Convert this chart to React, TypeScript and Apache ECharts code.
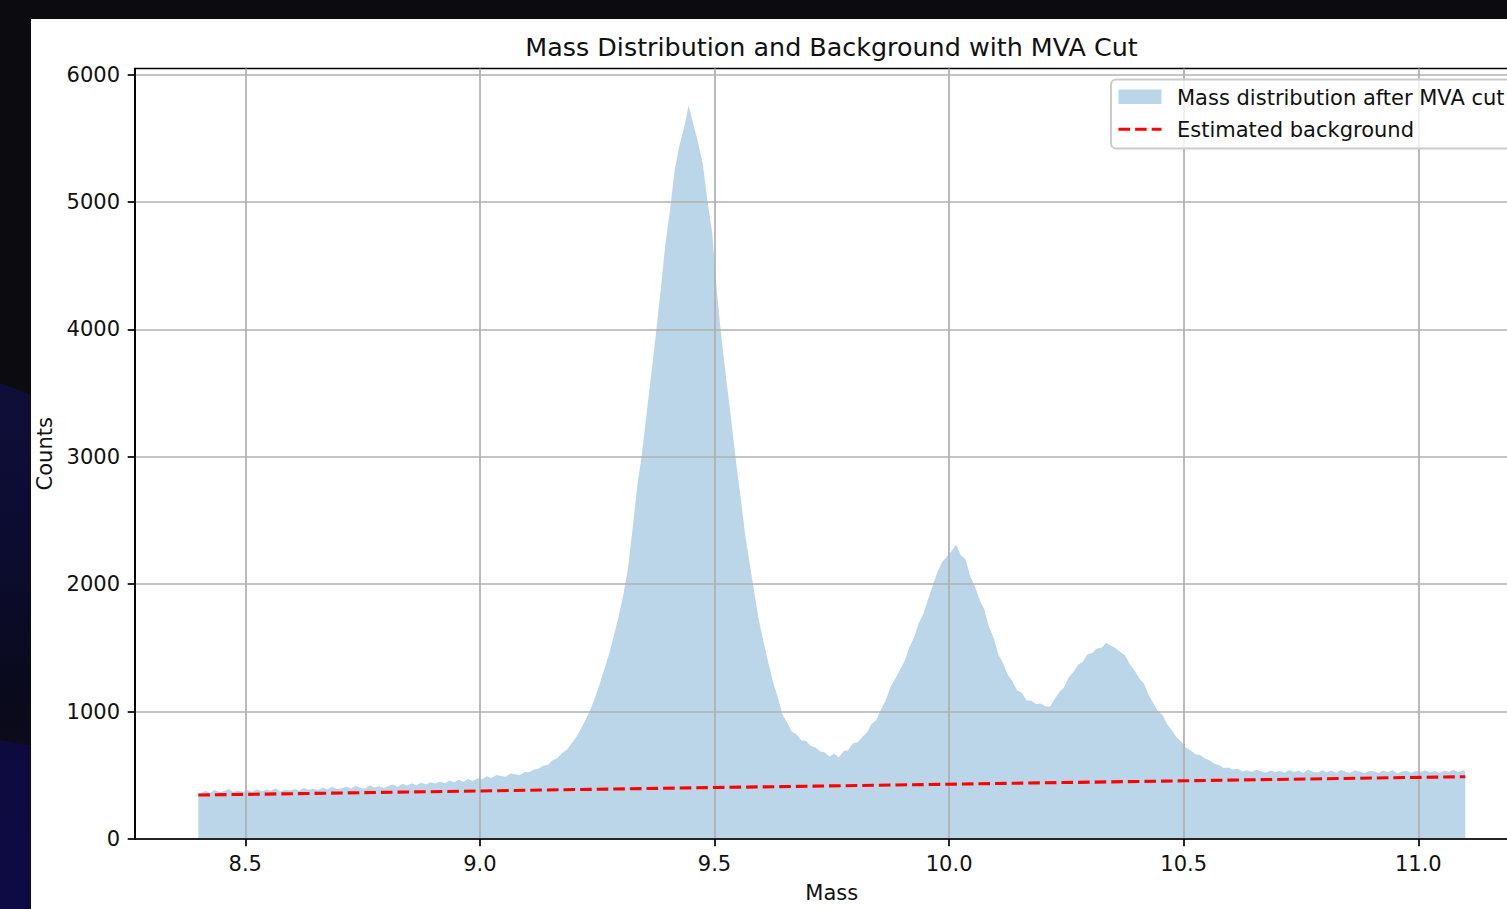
import React, { useEffect, useRef } from "react";
import * as echarts from "echarts";

// Histogram of the reconstructed mass after the MVA selection (bins of 0.01 from 8.40 to 11.10)
const HIST_START = 8.4;
const HIST_BIN_WIDTH = 0.01;
const histCounts: number[] = [
  358, 379, 364, 386, 366, 377, 392, 368, 381, 371, // 8.40
  384, 370, 391, 375, 388, 379, 398, 372, 387, 380, // 8.50
  392, 378, 401, 386, 395, 383, 404, 389, 410, 393, // 8.60
  399, 412, 396, 418, 403, 395, 421, 405, 414, 401, // 8.70
  416, 428, 411, 433, 420, 437, 422, 441, 427, 446, // 8.80
  435, 451, 438, 460, 445, 466, 449, 471, 456, 476, // 8.90
  470, 492, 479, 503, 494, 488, 515, 509, 501, 526, // 9.00
  524, 545, 551, 577, 583, 618, 634, 675, 698, 748, // 9.10
  798, 862, 935, 1012, 1105, 1212, 1330, 1448, 1590, 1735, // 9.20
  1905, 2110, 2420, 2760, 3010, 3330, 3640, 3960, 4300, 4660, // 9.30
  4930, 5250, 5440, 5580, 5760, 5610, 5470, 5300, 5010, 4760, // 9.40
  4300, 3930, 3610, 3310, 2990, 2700, 2400, 2160, 1930, 1710, // 9.50
  1540, 1380, 1228, 1112, 978, 912, 842, 820, 776, 770, // 9.60
  731, 719, 688, 678, 648, 670, 641, 688, 698, 751, // 9.70
  760, 801, 838, 905, 934, 1021, 1090, 1193, 1255, 1326, // 9.80
  1398, 1501, 1580, 1692, 1768, 1880, 1988, 2094, 2172, 2215, // 9.90
  2258, 2312, 2228, 2196, 2062, 1983, 1878, 1802, 1664, 1578, // 10.00
  1448, 1380, 1290, 1238, 1165, 1148, 1090, 1086, 1060, 1064, // 10.10
  1042, 1038, 1098, 1154, 1191, 1270, 1310, 1368, 1392, 1450, // 10.20
  1460, 1495, 1502, 1540, 1516, 1498, 1468, 1442, 1372, 1324, // 10.30
  1262, 1222, 1132, 1068, 1002, 974, 898, 854, 796, 764, // 10.40
  716, 694, 666, 660, 632, 618, 591, 580, 557, 562, // 10.50
  545, 551, 530, 540, 526, 544, 529, 521, 538, 524, // 10.60
  533, 520, 541, 526, 535, 518, 546, 527, 522, 539, // 10.70
  524, 537, 519, 542, 528, 521, 540, 530, 516, 535, // 10.80
  531, 518, 537, 523, 541, 515, 529, 536, 520, 533, // 10.90
  527, 540, 522, 535, 519, 538, 526, 543, 525, 537, // 11.00
];

// Estimated (linear) background
const bgMass = [8.4, 9.0, 9.5, 10.0, 10.5, 11.1];
const bgCounts = [345, 377, 404, 430, 457, 489];

// Axis ranges and ticks
const X_RANGE = [8.265, 11.235];
const Y_RANGE = [0, 6048];
const massTicks = [8.5, 9.0, 9.5, 10.0, 10.5, 11.0];
const countTicks = [0, 1000, 2000, 3000, 4000, 5000, 6000];

const TITLE = "Mass Distribution and Background with MVA Cut";
const X_NAME = "Mass";
const Y_NAME = "Counts";
const HIST_LABEL = "Mass distribution after MVA cut";
const BG_LABEL = "Estimated background";

const FONT = '"DejaVu Sans", "Liberation Sans", sans-serif';
const HIST_FILL = "rgba(31,119,180,0.3)";
const TEXT_COLOR = "#111111";

// Outline of the histogram: each bin drawn at its centre, closed at the outer bin edges
function histogramOutline(): number[][] {
  const n = histCounts.length;
  const pts: number[][] = [[HIST_START, histCounts[0]]];
  for (let i = 0; i < n; i++) {
    const centre = +(HIST_START + (i + 0.5) * HIST_BIN_WIDTH).toFixed(4);
    pts.push([centre, histCounts[i]]);
  }
  pts.push([+(HIST_START + n * HIST_BIN_WIDTH).toFixed(4), histCounts[n - 1]]);
  return pts;
}

function buildOption(): echarts.EChartsOption {
  const axisCommon = {
    z: 3,
    axisLine: { show: true, onZero: false, lineStyle: { color: "#000", width: 1.7 } },
    splitLine: { show: true, lineStyle: { color: "#b0b0b0", width: 1.7 } },
    nameTextStyle: { fontSize: 21, color: TEXT_COLOR, fontFamily: FONT },
  };

  return {
    animation: false,
    backgroundColor: "#ffffff",
    textStyle: { fontFamily: FONT },
    grid: {
      left: 104,
      top: 49.5,
      width: 1393.6,
      height: 770.5,
      show: true,
      borderColor: "#000",
      borderWidth: 1.7,
      backgroundColor: "transparent",
      containLabel: false,
      outerBoundsMode: "none",
    } as any,
    xAxis: {
      ...axisCommon,
      type: "value",
      min: X_RANGE[0],
      max: X_RANGE[1],
      name: X_NAME,
      nameLocation: "middle",
      nameGap: 43,
      axisTick: {
        show: true,
        length: 7.3,
        inside: false,
        customValues: massTicks,
        lineStyle: { color: "#000", width: 1.7 },
      },
      axisLabel: {
        customValues: massTicks,
        formatter: (v: number) => v.toFixed(1),
        fontSize: 21,
        color: TEXT_COLOR,
        fontFamily: FONT,
        margin: 14,
      },
    } as any,
    yAxis: {
      ...axisCommon,
      type: "value",
      min: Y_RANGE[0],
      max: Y_RANGE[1],
      name: Y_NAME,
      nameLocation: "middle",
      nameGap: 78,
      axisTick: {
        show: true,
        length: 7.3,
        inside: false,
        customValues: countTicks,
        lineStyle: { color: "#000", width: 1.7 },
      },
      axisLabel: {
        customValues: countTicks,
        formatter: (v: number) => String(Math.round(v)),
        fontSize: 21,
        color: TEXT_COLOR,
        fontFamily: FONT,
        margin: 15,
        padding: [5, 0, 0, 0],
      },
    } as any,
    series: [
      {
        name: HIST_LABEL,
        type: "line",
        z: 1,
        data: histogramOutline(),
        symbol: "none",
        silent: true,
        lineStyle: { width: 0, color: HIST_FILL },
        areaStyle: { color: HIST_FILL, opacity: 1 },
      },
      {
        name: BG_LABEL,
        type: "line",
        z: 5,
        data: bgMass.map((m, i) => [m, bgCounts[i]]),
        symbol: "none",
        silent: true,
        lineStyle: { color: "#ff0000", width: 3.1, type: [11.6, 5] as any },
      },
    ],
    graphic: [
      {
        type: "text",
        z: 100,
        x: 800.5,
        y: 28,
        style: {
          text: TITLE,
          fill: TEXT_COLOR,
          fontSize: 25.4,
          fontFamily: FONT,
          align: "center",
          verticalAlign: "middle",
        },
      },
      {
        type: "rect",
        z: 100,
        shape: { x: 1080, y: 60.5, width: 406, height: 69, r: 5 },
        style: { fill: "rgba(255,255,255,0.8)", stroke: "#cccccc", lineWidth: 2 },
      },
      {
        type: "rect",
        z: 101,
        shape: { x: 1087.5, y: 70.4, width: 43, height: 14.7 },
        style: { fill: HIST_FILL },
      },
      {
        type: "line",
        z: 101,
        shape: { x1: 1087.5, y1: 110.3, x2: 1130.5, y2: 110.3 },
        style: { stroke: "#ff0000", lineWidth: 3.1, lineDash: [11.6, 5] },
      },
      {
        type: "text",
        z: 101,
        x: 1146,
        y: 79,
        style: {
          text: HIST_LABEL,
          fill: TEXT_COLOR,
          fontSize: 21,
          fontFamily: FONT,
          align: "left",
          verticalAlign: "middle",
        },
      },
      {
        type: "text",
        z: 101,
        x: 1146,
        y: 110.5,
        style: {
          text: BG_LABEL,
          fill: TEXT_COLOR,
          fontSize: 21,
          fontFamily: FONT,
          align: "left",
          verticalAlign: "middle",
        },
      },
    ],
  };
}

export default function App() {
  const chartRef = useRef<HTMLDivElement>(null);

  useEffect(() => {
    if (!chartRef.current) return;
    const chart = echarts.init(chartRef.current, null, { renderer: "svg" });
    chart.setOption(buildOption());
    return () => chart.dispose();
  }, []);

  return (
    <div
      style={{
        position: "fixed",
        left: 0,
        top: 0,
        width: 1507,
        height: 909,
        background: "#0b0b10",
        overflow: "hidden",
      }}
    >
      {/* dark navy backdrop shapes along the left edge */}
      <div
        style={{
          position: "absolute",
          left: 0,
          top: 380,
          width: 31,
          height: 370,
          background: "linear-gradient(180deg, #0e0e3a 0%, #0c0c30 45%, #0a0a1e 80%, #0b0b1a 100%)",
          clipPath: "polygon(0 3px, 100% 15px, 100% 100%, 0 100%)",
        }}
      />
      <div
        style={{
          position: "absolute",
          left: 0,
          top: 738,
          width: 31,
          height: 171,
          background: "linear-gradient(180deg, #0d0b3e 0%, #0e0b44 100%)",
          clipPath: "polygon(0 2px, 100% 8px, 100% 100%, 0 100%)",
        }}
      />
      {/* figure canvas */}
      <div
        style={{
          position: "absolute",
          left: 31,
          top: 19,
          width: 1476,
          height: 890,
          background: "#ffffff",
          overflow: "hidden",
        }}
      >
        <div
          ref={chartRef}
          style={{ position: "absolute", left: 0, top: 0, width: 1560, height: 890 }}
        />
      </div>
    </div>
  );
}
